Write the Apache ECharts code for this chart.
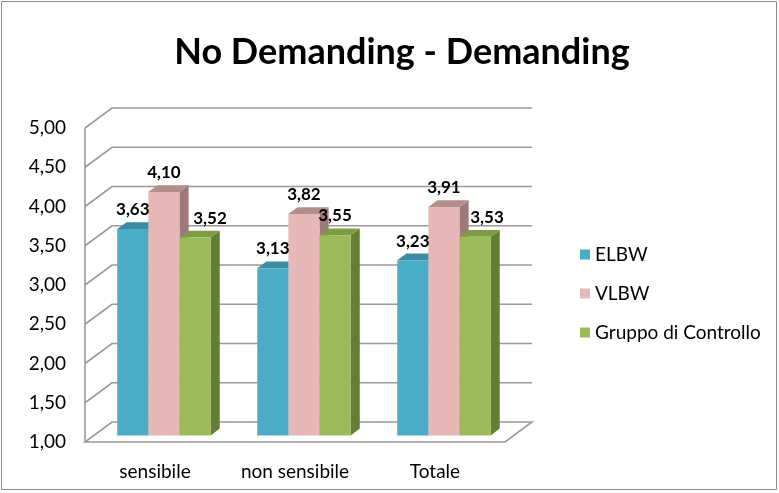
<!DOCTYPE html>
<html>
<head>
<meta charset="utf-8">
<title>No Demanding - Demanding</title>
<script src="https://cdn.jsdelivr.net/npm/echarts@6/dist/echarts.min.js"></script>
<style>
  html, body { margin: 0; padding: 0; background: #fff; }
  #chart { width: 779px; height: 493px; }
</style>
</head>
<body>
<div id="chart"></div>
<script>
// Categories and values
const categories = ['sensibile', 'non sensibile', 'Totale'];
const seriesNames = ['ELBW', 'VLBW', 'Gruppo di Controllo'];
const elbw = [3.63, 3.13, 3.23];
const vlbw = [4.10, 3.82, 3.91];
const controllo = [3.52, 3.55, 3.53];
const yTicks = [1.0, 1.5, 2.0, 2.5, 3.0, 3.5, 4.0, 4.5, 5.0];

const AXIS_MIN = 1, AXIS_MAX = 5, AXIS_STEP = 0.5;
const FONT = 'Lato';

// Oblique depth of the 3D box (pixels) and where the bars sit inside it
const DX = 27, DY = -20;
const T_FRONT = 0.33, T_BACK = 0.67;

const palette = [
  { front: '#4BACC6', top: '#3C8DA3', side: '#31778A' },
  { front: '#E6B9B8', top: '#B48E8D', side: '#9C7A79' },
  { front: '#9BBB59', top: '#7E9D43', side: '#647E35' }
];
// small sideways nudges for a few value labels (series-category)
const labelNudge = { '2-0': 15, '2-2': 12 };

const fmt = v => v.toFixed(2).replace('.', ',');
const valueSets = [elbw, vlbw, controllo];

function wallsItem(params, api) {
  const v = api.value(1);
  const cs = params.coordSys;
  const left = cs.x, right = cs.x + cs.width;
  const y = api.coord([0, v])[1];
  const stroke = { stroke: '#999999', lineWidth: 1.6, fill: null };
  const children = [];
  if (v === AXIS_MIN) {
    children.push({
      type: 'polygon',
      shape: { points: [[left, y], [right, y], [right + DX, y + DY], [left + DX, y + DY]] },
      style: stroke
    });
    const yTop = api.coord([0, AXIS_MAX])[1];
    children.push({
      type: 'line',
      shape: { x1: left, y1: yTop, x2: left, y2: y },
      style: stroke
    });
  } else {
    children.push({
      type: 'polyline',
      shape: { points: [[left, y], [left + DX, y + DY], [right + DX, y + DY]] },
      style: stroke
    });
  }
  return { type: 'group', children };
}

function makeBarRenderer(s) {
  const col = palette[s];
  return function (params, api) {
    const ci = api.value(0), v = api.value(1);
    const band = api.size([1, 0])[0];
    const w = band / 4.5;
    const top = api.coord([ci, v]);
    const base = api.coord([ci, AXIS_MIN]);
    const x0 = top[0] - 1.5 * w + s * w;
    const fx = T_FRONT * DX, fy = T_FRONT * DY;
    const bx = T_BACK * DX, by = T_BACK * DY;
    const yt = top[1], yb = base[1];
    const nudge = labelNudge[s + '-' + ci] || 0;
    return {
      type: 'group',
      children: [
        {
          type: 'polygon',
          shape: { points: [[x0 + w + fx, yt + fy], [x0 + w + bx, yt + by], [x0 + w + bx, yb + by], [x0 + w + fx, yb + fy]] },
          style: { fill: col.side }
        },
        {
          type: 'polygon',
          shape: { points: [[x0 + fx, yt + fy], [x0 + w + fx, yt + fy], [x0 + w + bx, yt + by], [x0 + bx, yt + by]] },
          style: { fill: col.top }
        },
        {
          type: 'rect',
          shape: { x: x0 + fx, y: yt + fy, width: w, height: yb - yt },
          style: { fill: col.front }
        },
        {
          type: 'text',
          z2: 10,
          style: {
            text: fmt(v),
            x: x0 + w / 2 + fx + nudge,
            y: yt + by - 12.5,
            align: 'center',
            verticalAlign: 'middle',
            fontFamily: FONT,
            fontWeight: 'bold',
            fontSize: 17,
            fill: '#000'
          }
        }
      ]
    };
  };
}

const chart = echarts.init(document.getElementById('chart'), null, { renderer: 'canvas' });

const series = [{
  type: 'custom',
  name: 'walls',
  silent: true,
  renderItem: wallsItem,
  data: yTicks.map(v => [0, v]),
  z: 1
}];
seriesNames.forEach((name, s) => {
  series.push({
    type: 'custom',
    name,
    renderItem: makeBarRenderer(s),
    itemStyle: { color: palette[s].front },
    data: valueSets[s].map((v, i) => [i, v]),
    z: 2
  });
});

chart.setOption({
  animation: false,
  backgroundColor: '#ffffff',
  title: {
    text: 'No Demanding - Demanding',
    left: 397,
    textAlign: 'center',
    top: 29,
    textStyle: { fontFamily: FONT, fontWeight: 'bold', fontSize: 36, color: '#000' }
  },
  graphic: [{
    type: 'rect',
    shape: { x: 1.5, y: 1.5, width: 775, height: 488 },
    style: { fill: null, stroke: '#8a8a8a', lineWidth: 1 },
    silent: true
  }],
  legend: {
    data: seriesNames,
    orient: 'vertical',
    left: 575,
    top: 240,
    itemWidth: 10,
    itemHeight: 10,
    itemGap: 20,
    icon: 'rect',
    textStyle: { fontFamily: FONT, fontSize: 19, color: '#000' }
  },
  grid: { left: 85, top: 128, width: 420, height: 314 },
  xAxis: {
    type: 'category',
    data: categories,
    axisLine: { show: false },
    axisTick: { show: false },
    axisLabel: { interval: 0, fontFamily: FONT, fontSize: 19, color: '#000', margin: 20 }
  },
  yAxis: {
    type: 'value',
    min: AXIS_MIN,
    max: AXIS_MAX,
    interval: AXIS_STEP,
    axisLine: { show: false },
    axisTick: { show: false },
    splitLine: { show: false },
    axisLabel: { fontFamily: FONT, fontSize: 19, color: '#000', margin: 19, formatter: v => fmt(v) }
  },
  series
});
</script>
</body>
</html>
